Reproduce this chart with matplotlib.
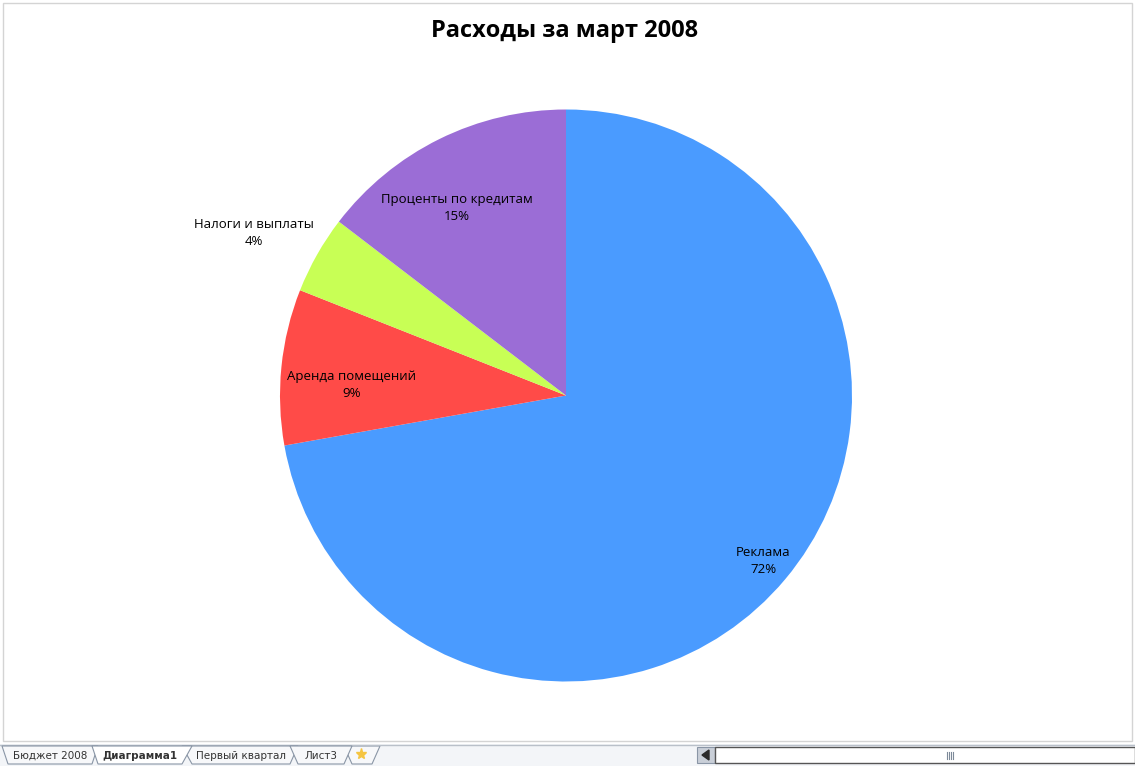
import matplotlib.pyplot as plt
import numpy as np

# --- data ---
categories = ['Реклама', 'Аренда помещений', 'Налоги и выплаты', 'Проценты по кредитам']
shares = [72.2, 8.8, 4.4, 14.6]
colors = ['#4a9bff', '#ff4b48', '#c8ff55', '#9b6dd6']
sheet_tabs = ['Бюджет 2008', 'Диаграмма1', 'Первый квартал', 'Лист3']
title = 'Расходы за март 2008'

# label distance from centre (fraction of radius) per slice, Excel "best fit"-like
label_dist = [0.9, 0.75, 1.23, 0.76]
label_shift = [0, 3, 2, 4]  # degrees, small nudges

plt.rcParams['font.family'] = ['Open Sans', 'DejaVu Sans']

W, H = 1135, 766
fig = plt.figure(figsize=(W / 100, H / 100), dpi=100)
fig.patch.set_facecolor('white')

# chart area border
bg = fig.add_axes([0, 0, 1, 1])
bg.set_xlim(0, W)
bg.set_ylim(H, 0)
bg.axis('off')
bg.add_patch(plt.Rectangle((2.5, 2.5), 1129, 738, fill=False, ec='#d4d4d4', lw=1))

# sheet tab strip
bg.add_patch(plt.Rectangle((0, 744), W, 22, fc='#f3f5f8', ec='none'))
bg.plot([0, W], [745, 745], color='#b9c0c9', lw=1)
tab_x = [[2, 8, 92, 98], [92, 98, 182, 192], [182, 192, 290, 298], [290, 298, 344, 352]]
for i, (name, xs) in enumerate(zip(sheet_tabs, tab_x)):
    active = name == 'Диаграмма1'
    bg.fill([xs[0], xs[1], xs[2], xs[3]], [746, 764, 764, 746],
            fc='white' if active else '#f7f8fa', ec='#8a96a6', lw=0.8, zorder=3 if active else 2)
    bg.text((xs[1] + xs[2]) / 2, 756, name, ha='center', va='center', fontsize=7.5,
            fontweight='bold' if active else 'normal', color='#333333', zorder=4,
            family=['DejaVu Sans'])
bg.fill([344, 352, 372, 380], [746, 764, 764, 746], fc='#f7f8fa', ec='#8a96a6', lw=0.8)
bg.plot(361, 754, marker='*', color='#f5c542', ms=8)
# horizontal scroll bar
bg.add_patch(plt.Rectangle((697, 747), 18, 16, fc='#c9cfd8', ec='#8a96a6', lw=0.8))
bg.fill([702, 709, 709], [755, 750, 760], color='#2b2b2b')
bg.add_patch(plt.Rectangle((715, 747), 420, 16, fc='white', ec='#555555', lw=1))
for gx in [947, 949, 951, 953]:
    bg.plot([gx, gx], [752, 759], color='#7d8a99', lw=0.8)

# title
fig.text(565 / W, 1 - 31 / H, title, ha='center', va='center', fontsize=17,
         fontweight='bold', color='black')

# pie
cx, cy, r = 566, 395.5, 286
ax = fig.add_axes([(cx - r) / W, (H - cy - r) / H, 2 * r / W, 2 * r / H])
wedges, _ = ax.pie(shares, colors=colors, startangle=90, counterclock=False, radius=1,
                   wedgeprops=dict(linewidth=0))
ax.set_xlim(-1, 1)
ax.set_ylim(-1, 1)
ax.set_aspect('equal')
ax.axis('off')

total = sum(shares)
for w, name, val, d, s in zip(wedges, categories, shares, label_dist, label_shift):
    mid = np.deg2rad((w.theta1 + w.theta2) / 2 + s)
    ax.text(d * np.cos(mid), d * np.sin(mid), f'{name}\n{val / total * 100:.0f}%',
            ha='center', va='center', fontsize=9.5, color='black', linespacing=1.35)

fig.savefig('out.png', dpi=100)
